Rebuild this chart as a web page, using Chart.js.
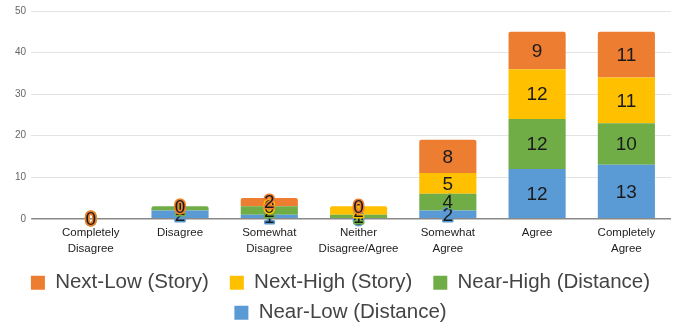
<!DOCTYPE html>
<html>
<head>
<meta charset="utf-8">
<title>Responses by condition</title>
<script src="https://cdn.jsdelivr.net/npm/chart.js@4/dist/chart.umd.min.js"></script>
<style>
    html, body { margin: 0; padding: 0; background: #fff; }
    #wrap { width: 675px; height: 324px; position: relative; }
</style>
</head>
<body>
<div id="wrap"><canvas id="responseChart"></canvas></div>
<script>
const categories = [
    ['Completely', 'Disagree'],
    'Disagree',
    ['Somewhat', 'Disagree'],
    ['Neither', 'Disagree/Agree'],
    ['Somewhat', 'Agree'],
    'Agree',
    ['Completely', 'Agree']
];

// stacked bottom to top
const nearLow = [0, 2, 1, 0, 2, 12, 13];
const nearHigh = [0, 1, 2, 1, 4, 12, 10];
const nextHigh = [0, 0, 0, 2, 5, 12, 11];
const nextLow = [0, 0, 2, 0, 8, 9, 11];

const yTicks = [0, 10, 20, 30, 40, 50];

const fontFamily = "'Liberation Sans', Arial, sans-serif";

// value labels in the middle of each segment, outlined in the segment colour
const segmentLabels = {
    id: 'segmentLabels',
    afterDatasetsDraw(chart) {
        const ctx = chart.ctx;
        ctx.save();
        ctx.font = '19px ' + fontFamily;
        ctx.textAlign = 'center';
        ctx.textBaseline = 'middle';
        ctx.lineJoin = 'round';
        chart.data.datasets.forEach((ds, i) => {
            const meta = chart.getDatasetMeta(i);
            meta.data.forEach((bar, j) => {
                const text = String(ds.data[j]);
                const y = (bar.y + bar.base) / 2;
                ctx.lineWidth = 3;
                ctx.strokeStyle = ds.backgroundColor;
                ctx.strokeText(text, bar.x, y + 1);
                ctx.fillStyle = '#1a1a1a';
                ctx.fillText(text, bar.x, y + 1);
            });
        });
        ctx.restore();
    }
};

const ctx = document.getElementById('responseChart').getContext('2d');
new Chart(ctx, {
    type: 'bar',
    data: {
        labels: categories,
        datasets: [
            { label: 'Near-Low (Distance)', data: nearLow, backgroundColor: '#5B9BD5' },
            { label: 'Near-High (Distance)', data: nearHigh, backgroundColor: '#70AD47' },
            { label: 'Next-High (Story)', data: nextHigh, backgroundColor: '#FFC000' },
            { label: 'Next-Low (Story)', data: nextLow, backgroundColor: '#ED7D31' }
        ]
    },
    options: {
        responsive: true,
        maintainAspectRatio: false,
        animation: false,
        categoryPercentage: 0.8,
        barPercentage: 0.8,
        borderRadius: 2,
        layout: {
            padding: { left: 10, right: 4, top: 7, bottom: -9 }
        },
        plugins: {
            tooltip: { enabled: false },
            legend: {
                display: true,
                position: 'bottom',
                reverse: true,
                labels: {
                    boxWidth: 14,
                    boxHeight: 14,
                    padding: 9.5,
                    color: '#444',
                    font: { family: fontFamily, size: 20.5 },
                    generateLabels: function (chart) {
                        const items = Chart.defaults.plugins.legend.labels.generateLabels(chart);
                        // a bit more room after the first two story items
                        items.forEach(item => {
                            if (item.datasetIndex >= 2) item.text += '  ';
                        });
                        return items;
                    }
                }
            }
        },
        scales: {
            x: {
                stacked: true,
                grid: { display: false, drawTicks: false },
                border: { display: false },
                ticks: {
                    color: '#222',
                    padding: 6,
                    maxRotation: 0,
                    autoSkip: false,
                    font: { family: fontFamily, size: 11.5, lineHeight: 1.4 }
                }
            },
            y: {
                stacked: true,
                min: 0,
                max: 50,
                afterBuildTicks: function (scale) {
                    scale.ticks = yTicks.map(v => ({ value: v }));
                },
                border: { display: false },
                grid: {
                    tickLength: 15,
                    color: c => c.tick && c.tick.value === 0 ? '#888' : '#e3e3e3',
                    lineWidth: c => c.tick && c.tick.value === 0 ? 1.5 : 1
                },
                ticks: {
                    color: '#666',
                    padding: 5,
                    font: { family: fontFamily, size: 10 }
                }
            }
        }
    },
    plugins: [segmentLabels]
});
</script>
</body>
</html>
